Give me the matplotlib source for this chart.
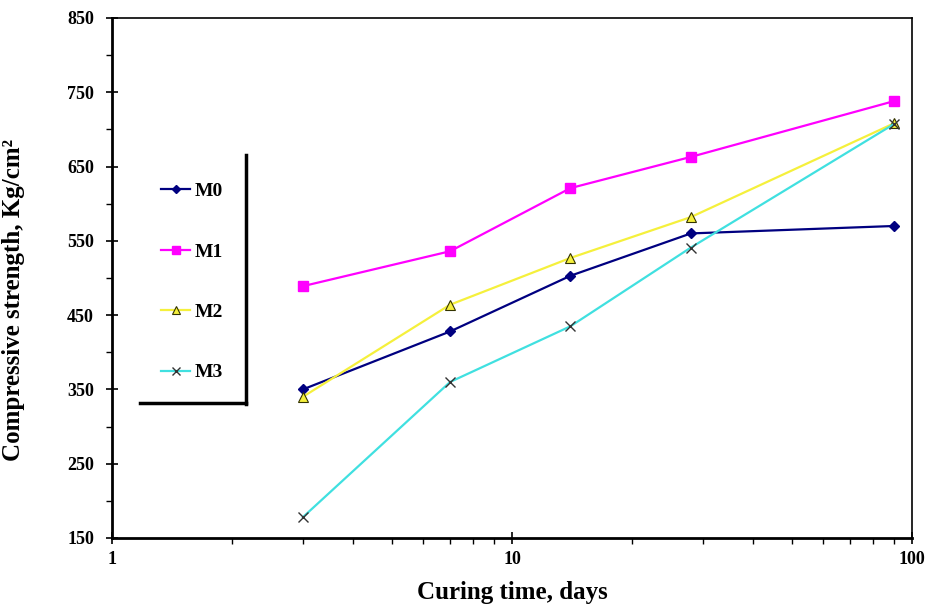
import numpy as np
import matplotlib.pyplot as plt
from matplotlib.lines import Line2D
from matplotlib.ticker import FixedLocator, NullFormatter

plt.rcParams['font.family'] = ['Liberation Serif', 'DejaVu Serif']
plt.rcParams['font.weight'] = 'bold'

days = [3, 7, 14, 28, 90]
m0 = [350, 428, 503, 560, 570]
m1 = [489, 536, 621, 663, 738]
m2 = [340, 464, 527, 582, 708]
m3 = [178, 360, 435, 541, 707]

fig = plt.figure(figsize=(9.3, 6.08), dpi=100)
ax = fig.add_axes([112/930, 1-538/608, 800/930, 520/608])

ax.plot(days, m0, color='#000080', marker='D', ms=5.5, lw=1.6, label='M0')
ax.plot(days, m1, color='#FF00FF', marker='s', ms=7.5, lw=1.6, label='M1')
ax.plot(days, m2, color='#F5F03C', marker='^', ms=7.5, mec='#333300', mfc='#F5F03C',
        mew=0.8, lw=1.6, label='M2')
ax.plot(days, m3, color='#40E0E0', marker='x', ms=7.5, mec='#333333', mew=1.0,
        lw=1.6, label='M3')

ax.set_xscale('log')
ax.set_xlim(1, 100)
ax.set_ylim(150, 850)
ax.set_yticks(np.arange(150, 851, 100))
ax.yaxis.set_minor_locator(FixedLocator(np.arange(200, 850, 100)))
ax.set_xticks([1, 10, 100])
ax.set_xticklabels(['1', '10', '100'])
ax.xaxis.set_minor_locator(FixedLocator([2, 3, 4, 5, 6, 7, 8, 9, 20, 30, 40, 50, 60, 70, 80, 90]))
ax.xaxis.set_minor_formatter(NullFormatter())

ax.tick_params(axis='both', which='major', direction='inout', length=8, width=1.2,
               labelsize=13, colors='black')
ax.tick_params(axis='both', which='minor', direction='out', length=4, width=1.0)
ax.tick_params(axis='y', which='major', pad=9)
ax.tick_params(axis='x', which='major', pad=5)

for side in ['left', 'bottom']:
    ax.spines[side].set_linewidth(2)
for side in ['top', 'right']:
    ax.spines[side].set_linewidth(1.2)

ax.set_xlabel('Curing time, days', fontsize=18, fontweight='bold', labelpad=10)
ax.set_ylabel('Compressive strength, Kg/cm²', fontsize=18, fontweight='bold')
ax.yaxis.set_label_coords(-0.109, 0.458)

leg = ax.legend(loc='center', bbox_to_anchor=(192/930, 1-282/608),
                bbox_transform=fig.transFigure, frameon=False, fontsize=14,
                labelspacing=2.2, handlelength=1.5, handletextpad=0.2,
                markerscale=0.8)

# legend shadow border
fig.add_artist(Line2D([246/930, 246/930], [1-155/608, 1-404/608], color='black', lw=2.5))
fig.add_artist(Line2D([140/930, 246/930], [1-403/608, 1-403/608], color='black', lw=2.5))

fig.savefig('out.png', dpi=100)
